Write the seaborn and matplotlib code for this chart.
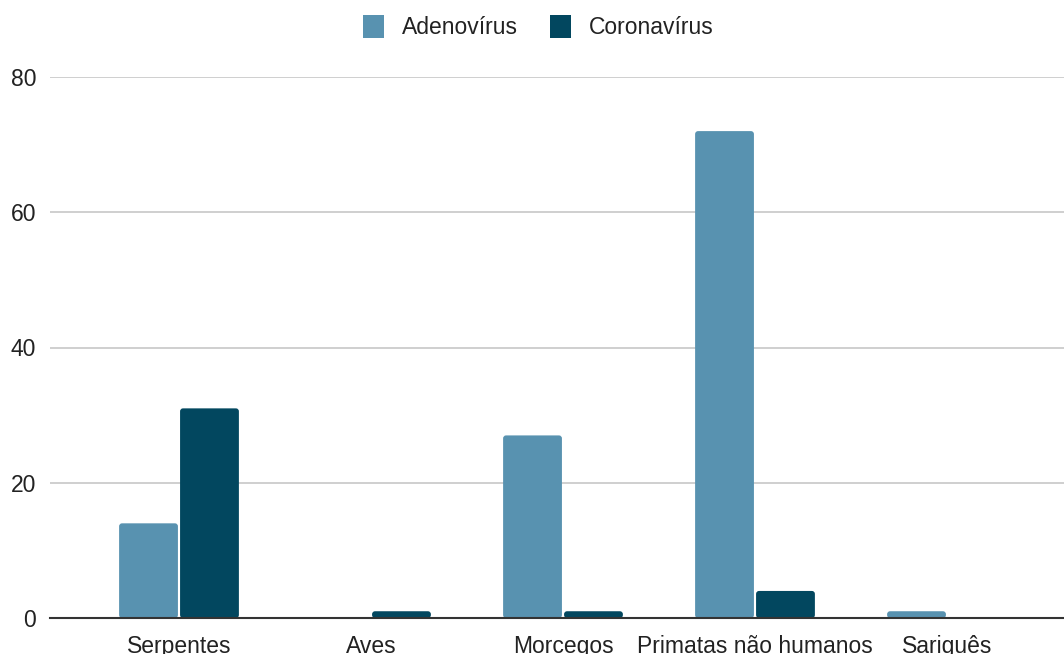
import matplotlib
matplotlib.use("Agg")
import matplotlib.pyplot as plt
import seaborn as sns
import pandas as pd
from matplotlib.patches import FancyBboxPatch, Patch

# Number of records per host group and virus family
hosts = ["Serpentes", "Aves", "Morcegos", "Primatas não humanos", "Sariguês"]
adenovirus = [14, 0, 27, 72, 1]
coronavirus = [31, 1, 1, 4, 0]
series_names = ["Adenovírus", "Coronavírus"]
colors = ["#5892B0", "#02475F"]
y_ticks = [0, 20, 40, 60, 80]

df = pd.DataFrame({
    "host": hosts * 2,
    "count": adenovirus + coronavirus,
    "virus": [series_names[0]] * len(hosts) + [series_names[1]] * len(hosts),
})

sns.set_theme(style="white")
plt.rcParams["font.family"] = ["Liberation Sans", "DejaVu Sans"]

W, H = 1064, 654
fig = plt.figure(figsize=(W / 100, H / 100), dpi=100)
ax = fig.add_axes([50 / W, (H - 618) / H, (1064 - 50) / W, (618 - 77) / H])

sns.barplot(data=df, x="host", y="count", hue="virus", order=hosts,
            hue_order=series_names, palette=colors, width=0.635, gap=0.035,
            ax=ax, legend=False, saturation=1, linewidth=0)

ax.set_ylim(0, 80)
ax.set_xlim(-(179 - 50) / 192, -(179 - 50) / 192 + (1064 - 50) / 192)

# Replace plain rectangles with slightly rounded bars
x_per_px = 1 / 192
y_per_px = 80 / (618 - 77)
for p in list(ax.patches):
    x, y = p.get_x(), p.get_y()
    w, h = p.get_width(), p.get_height()
    fc = p.get_facecolor()
    p.remove()
    if h <= 0:
        continue
    r = min(3 * x_per_px, h / (y_per_px / x_per_px) / 2)
    fb = FancyBboxPatch((x, y), w, h,
                        boxstyle=f"round,pad=0,rounding_size={r}",
                        mutation_aspect=y_per_px / x_per_px,
                        facecolor=fc, edgecolor="none", zorder=2)
    ax.add_patch(fb)

ax.set_yticks(y_ticks)
ax.yaxis.grid(True, color="#CCCCCC", linewidth=1.3, zorder=0)
ax.set_axisbelow(True)
for s in ["top", "right", "left"]:
    ax.spines[s].set_visible(False)
ax.spines["bottom"].set_color("#333333")
ax.spines["bottom"].set_linewidth(1.5)
ax.spines["bottom"].set_zorder(3)
ax.tick_params(axis="both", length=0, labelsize=16.5, colors="#222222")
ax.tick_params(axis="y", pad=10)
ax.tick_params(axis="x", pad=12)
ax.set_xlabel("")
ax.set_ylabel("")

handles = [Patch(facecolor=c, edgecolor="none") for c in colors]
fig.legend(handles, series_names, loc="center", bbox_to_anchor=(538 / W, 1 - 27 / H),
           ncol=2, frameon=False, fontsize=16.5, handlelength=0.95, handleheight=1.2,
           handletextpad=0.75, columnspacing=1.4, labelcolor="#222222")

fig.savefig("out.png", dpi=100)
